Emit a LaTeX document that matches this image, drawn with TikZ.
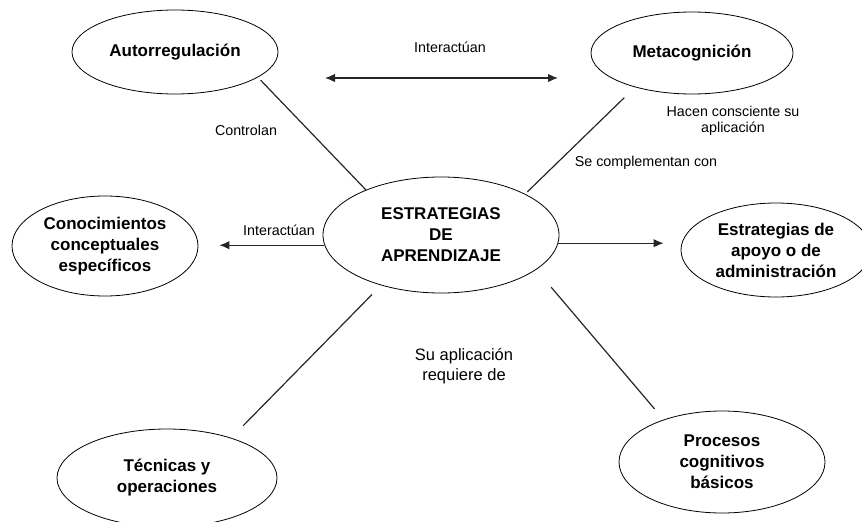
\documentclass[tikz,border=0pt]{standalone}
\usepackage{fontspec}
\setmainfont{Liberation Sans}
\usetikzlibrary{shapes.geometric,arrows.meta}
\tikzset{
  idea/.style={draw, ellipse, line width=0.8pt, inner sep=0pt, align=center,
    font=\fontsize{17}{21}\selectfont\bfseries},
  rotulo/.style={align=center, inner sep=0pt, font=\fontsize{14.3}{16}\selectfont},
  enlace/.style={draw, line width=1.2pt, black!85},
  flecha/.style={enlace, -{Latex[length=10pt,width=8.5pt]}},
  dobleflecha/.style={enlace, {Latex[length=10pt,width=8.5pt]}-{Latex[length=10pt,width=8.5pt]}}
}
\begin{document}
\begin{tikzpicture}[x=1pt,y=-1pt]
\useasboundingbox (0,0) rectangle (862,522);

\node[idea, minimum width=236pt, minimum height=116pt] (centro) at (441,235) {ESTRATEGIAS\\DE\\APRENDIZAJE};
\node[idea, minimum width=206pt, minimum height=84pt] (auto) at (175,52) {Autorregulación};
\node[idea, minimum width=202pt, minimum height=82pt] (meta) at (692,53) {Metacognición};
\node[idea, minimum width=186pt, minimum height=100pt] (conoc) at (105,246) {Conocimientos\\conceptuales\\específicos};
\node[idea, minimum width=190pt, minimum height=94pt] (apoyo) at (776,250) {Estrategias de\\apoyo o de\\administración};
\node[idea, minimum width=220pt, minimum height=98pt] (tecn) at (167,478) {Técnicas y\\operaciones};
\node[idea, minimum width=206pt, minimum height=102pt] (proc) at (722,462) {Procesos\\cognitivos\\básicos};

\node[rotulo] (lint1) at (450,47) {Interactúan};
\node[rotulo] (lctrl) at (246,130) {Controlan};
\node[rotulo] (lcons) at (733,121) {Hacen consciente su\\aplicación};
\node[rotulo] (lcomp) at (646,163) {Se complementan con};
\node[rotulo] (lint2) at (279,230) {Interactúan};
\node[rotulo, font=\fontsize{16.5}{20}\selectfont] (lreq) at (464,366) {Su aplicación\\requiere de};

\coordinate (ia) at (325,78);
\coordinate (ib) at (558,78);

\path[dobleflecha] (ia) -- (ib);
\path[flecha, shorten >=21pt] (centro.185) -- (centro.185 -| conoc.east);
\path[flecha, shorten >=17pt] (centro.-4) -- (centro.-4 -| apoyo.west);

\path[enlace, shorten <=4pt] (auto.-17) -- (centro.149);
\path[enlace, shorten <=15pt, shorten >=3pt] (meta.211) -- (centro.26);
\path[enlace, shorten <=13pt, shorten >=17pt] (centro.220) -- (tecn.32);
\path[enlace, shorten <=23pt, shorten >=14pt] (centro.-20) -- (proc.144);
\end{tikzpicture}
\end{document}
